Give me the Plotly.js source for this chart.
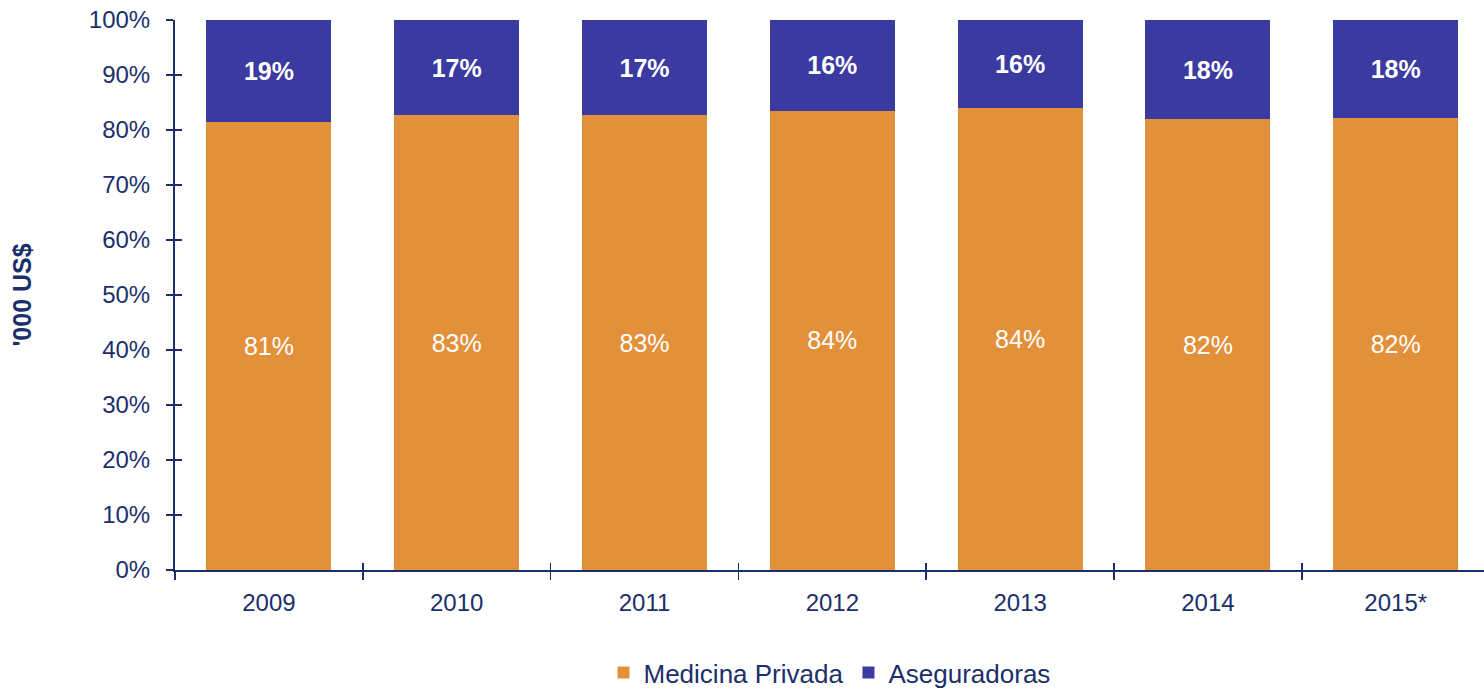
<!DOCTYPE html>
<html><head><meta charset="utf-8">
<script src="https://cdn.plot.ly/plotly-3.0.1.min.js"></script>
<style>html,body{margin:0;padding:0;background:#fff}#c{width:1484px;height:691px}</style>
</head><body><div id="c"></div>
<script>
const years = ['2009','2010','2011','2012','2013','2014','2015*'];
const medicinaPrivada = [81.5, 82.7, 82.7, 83.5, 84.0, 82.0, 82.2];
const aseguradoras = [18.5, 17.3, 17.3, 16.5, 16.0, 18.0, 17.8];
const medicinaLabels = ['81%','83%','83%','84%','84%','82%','82%'];
const aseguradorasLabels = ['19%','17%','17%','16%','16%','18%','18%'];
const yTicks = [0,10,20,30,40,50,60,70,80,90,100];

const navy = '#1B2F6B';
const font = 'Liberation Sans, Arial, sans-serif';

const data = [
  {type:'bar', name:'Medicina Privada', x:years, y:medicinaPrivada,
   marker:{color:'#E3903B'}, text:medicinaLabels, textposition:'inside',
   insidetextanchor:'middle', textfont:{color:'#fff', size:25, family:font},
   hoverinfo:'none'},
  {type:'bar', name:'Aseguradoras', x:years, y:aseguradoras,
   marker:{color:'#3B3AA1'}, text:aseguradorasLabels, textposition:'inside',
   insidetextanchor:'middle', textfont:{color:'#fff', size:25, family:font},
   texttemplate:'<b>%{text}</b>', hoverinfo:'none'},
  {type:'scatter', x:[0], y:[0], xaxis:'x2', yaxis:'y2', mode:'markers',
   marker:{opacity:0}, showlegend:false, hoverinfo:'none'}
];

const layout = {
  width:1484, height:691,
  margin:{l:175, r:0, t:20, b:121, autoexpand:false},
  paper_bgcolor:'#fff', plot_bgcolor:'#fff',
  barmode:'stack', bargap:0.334,
  font:{family:font, color:navy, size:24},
  showlegend:true,
  legend:{orientation:'h', x:0.5, xanchor:'center', y:-0.144, yanchor:'top',
          font:{size:26, color:navy, family:font}, traceorder:'normal',
          itemwidth:30, itemclick:false},
  xaxis:{type:'category', range:[-0.5, 6.47], showline:true, linecolor:navy, linewidth:2,
         ticks:'outside', ticklen:8, tickwidth:1.5, tickcolor:navy, tickson:'boundaries',
         tickfont:{size:24, color:navy}, showgrid:false, zeroline:false, fixedrange:true,
         ticklabelstandoff:10},
  yaxis:{range:[0,100], tickvals:yTicks, ticktext:yTicks.map(v=>v+'%'),
         showline:true, linecolor:navy, linewidth:2, ticks:'outside', ticklen:7,
         tickwidth:1.5, tickcolor:navy, tickfont:{size:24, color:navy},
         showgrid:false, zeroline:false, fixedrange:true, ticklabelstandoff:11,
         title:{text:"<b>'000 US$</b>", font:{size:25, color:navy, family:font}, standoff:50}},
  xaxis2:{overlaying:'x', range:[-0.5, 6.47], tickvals:[-0.5,0.5,1.5,2.5,3.5,4.5,5.5],
          ticks:'inside', ticklen:7, tickwidth:1.5, tickcolor:navy, showticklabels:false,
          showgrid:false, zeroline:false, showline:false, fixedrange:true},
  yaxis2:{overlaying:'y', range:[0,100], tickvals:yTicks, ticks:'inside', ticklen:7,
          tickwidth:1.5, tickcolor:navy, showticklabels:false, showgrid:false,
          zeroline:false, showline:false, fixedrange:true}
};

Plotly.newPlot('c', data, layout, {displayModeBar:false, staticPlot:true});
</script>
</body></html>
